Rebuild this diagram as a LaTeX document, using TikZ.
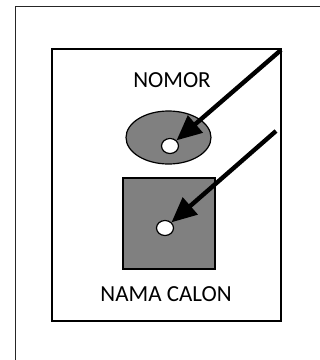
\documentclass[tikz,border=0pt]{standalone}
\usepackage{fontspec}
\setmainfont{Carlito}
\usepackage{tikz}
\usetikzlibrary{arrows.meta}
\usetikzlibrary{shapes.geometric}
\usetikzlibrary{positioning}

\begin{document}
\begin{tikzpicture}[x=1pt, y=-1pt,
  box/.style={rectangle, draw=black, line width=1.4pt, inner sep=0pt},
  hole/.style={ellipse, draw=black, fill=white, line width=1.2pt, minimum width=17pt, minimum height=15pt, inner sep=0pt},
  pointer/.style={-{Triangle[length=25pt, width=22pt]}, line width=4.4pt},
  label/.style={font=\fontsize{23}{27}\selectfont}]
\clip (0,0) rectangle (320,360);
\node [box, draw=black!85, anchor=north west, minimum width=340pt, minimum height=380pt] (frame) at (15,6) {};
\node [box, minimum width=229pt, minimum height=272pt] (ballot) at (166.5,185) {};
\node [label] (nomor) at (172,80) {NOMOR};
\node [ellipse, draw=black, fill=gray, line width=1.2pt, minimum width=85pt, minimum height=53pt] (oval) at (168.5,137.5) {};
\node [box, fill=gray, line width=1.2pt, minimum width=92pt, minimum height=91pt] (photo) at (169,223.5) {};
\node [hole] (h1) at (170,146) {};
\node [hole] (h2) at (165,228) {};
\node [label] (nama) at (166,294) {NAMA CALON};
\coordinate (p1) at (281,50);
\coordinate (p2) at (276,131);
\draw [pointer] (p1) -- (h1);
\draw [pointer] (p2) -- (h2);
\end{tikzpicture}
\end{document}
